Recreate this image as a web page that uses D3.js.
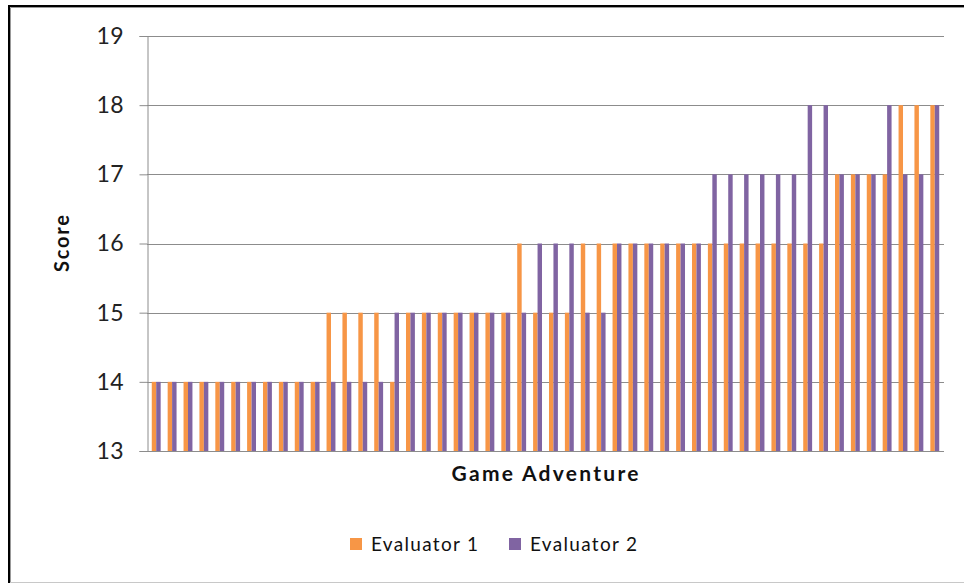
<!DOCTYPE html>
<html>
<head>
<meta charset="utf-8">
<script src="https://cdn.jsdelivr.net/npm/d3@7/dist/d3.min.js"></script>
<style>
  html, body { margin: 0; padding: 0; background: #fff; }
  svg { display: block; font-family: Lato, "Open Sans", sans-serif; }
</style>
</head>
<body>
<svg id="chart" width="964" height="583"></svg>
<script>
// ---- data ----
const categories = d3.range(1, 51);
const evaluator1 = [
  14,14,14,14,14,14,14,14,14,14,
  14,15,15,15,15,14,15,15,15,15,
  15,15,15,16,15,15,15,16,16,16,
  16,16,16,16,16,16,16,16,16,16,
  16,16,16,17,17,17,17,18,18,18
];
const evaluator2 = [
  14,14,14,14,14,14,14,14,14,14,
  14,14,14,14,14,15,15,15,15,15,
  15,15,15,15,16,16,16,15,15,16,
  16,16,16,16,16,17,17,17,17,17,
  17,18,18,17,17,17,18,17,17,18
];
const seriesNames = ["Evaluator 1", "Evaluator 2"];
const seriesColors = ["#F79646", "#8064A2"];
const yTicks = [13, 14, 15, 16, 17, 18, 19];
const xTitle = "Game Adventure";
const yTitle = "Score";

// ---- layout ----
const svg = d3.select("#chart");
const plot = { left: 147, right: 944, top: 36, bottom: 451 };

// frame
svg.append("line").attr("x1", 9).attr("x2", 964).attr("y1", 6).attr("y2", 6)
  .attr("stroke", "#000").attr("stroke-width", 2);
svg.append("line").attr("x1", 9).attr("x2", 9).attr("y1", 5).attr("y2", 583)
  .attr("stroke", "#000").attr("stroke-width", 2);
svg.append("line").attr("x1", 10.5).attr("x2", 964).attr("y1", 7.5).attr("y2", 7.5)
  .attr("stroke", "#999").attr("stroke-width", 1);
svg.append("line").attr("x1", 10.5).attr("x2", 10.5).attr("y1", 7.5).attr("y2", 583)
  .attr("stroke", "#999").attr("stroke-width", 1);
svg.append("line").attr("x1", 10).attr("x2", 964).attr("y1", 582.5).attr("y2", 582.5)
  .attr("stroke", "#c8c8c8").attr("stroke-width", 1);

const x = d3.scaleBand().domain(categories)
  .range([plot.left, plot.right]).paddingInner(0.44).paddingOuter(0.3);
const xs = d3.scaleBand().domain([0, 1]).range([0, x.bandwidth()]);
const y = d3.scaleLinear().domain([13, 19]).range([plot.bottom, plot.top]);

// gridlines
svg.append("g").selectAll("line").data(yTicks).join("line")
  .attr("x1", plot.left).attr("x2", plot.right)
  .attr("y1", d => Math.round(y(d)) + 0.5).attr("y2", d => Math.round(y(d)) + 0.5)
  .attr("stroke", "#8c8c8c").attr("stroke-width", 1);

// bars
const series = [evaluator1, evaluator2];
series.forEach((vals, si) => {
  svg.append("g").selectAll("rect").data(vals).join("rect")
    .attr("x", (d, i) => x(categories[i]) + xs(si))
    .attr("width", xs.bandwidth())
    .attr("y", d => y(d))
    .attr("height", d => y(13) - y(d))
    .attr("fill", seriesColors[si]);
});

// y axis
const yAxis = d3.axisLeft(y).tickValues(yTicks).tickSize(8).tickPadding(16).tickFormat(d3.format("d"));
const gy = svg.append("g").attr("transform", `translate(${plot.left + 0.5},0)`).call(yAxis);
gy.select(".domain").attr("stroke", "#8c8c8c");
gy.selectAll(".tick line").attr("stroke", "#8c8c8c");
gy.selectAll(".tick text").attr("font-size", 23).attr("fill", "#222")
  .attr("font-family", "Lato, sans-serif").attr("textLength", 27).attr("lengthAdjust", "spacing");

// x axis baseline
svg.append("line").attr("x1", plot.left).attr("x2", plot.right)
  .attr("y1", plot.bottom + 0.5).attr("y2", plot.bottom + 0.5)
  .attr("stroke", "#8c8c8c");

// titles
svg.append("text").attr("x", 545).attr("y", 481).attr("text-anchor", "middle")
  .attr("font-size", 21).attr("font-weight", "bold").attr("fill", "#111")
  .attr("textLength", 187).attr("lengthAdjust", "spacing").text(xTitle);
svg.append("text").attr("transform", "translate(69,243.5) rotate(-90)").attr("text-anchor", "middle")
  .attr("font-size", 20).attr("font-weight", "bold").attr("fill", "#111")
  .attr("textLength", 57).attr("lengthAdjust", "spacing").text(yTitle);

// legend
const legendX = [350, 509];
const lg = svg.append("g").selectAll("g").data(seriesNames).join("g")
  .attr("transform", (d, i) => `translate(${legendX[i]},538)`);
lg.append("rect").attr("width", 12).attr("height", 12).attr("fill", (d, i) => seriesColors[i]);
lg.append("text").attr("x", 21).attr("y", 13).attr("font-size", 19).attr("fill", "#111")
  .attr("textLength", 107).attr("lengthAdjust", "spacing").text(d => d);
</script>
</body>
</html>
